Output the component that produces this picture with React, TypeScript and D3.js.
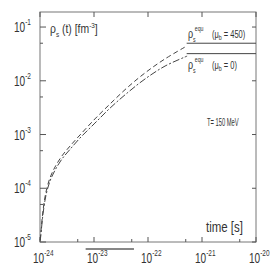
import { useRef, useEffect } from 'react';
import * as d3 from 'd3';

// time points [s]
const times = [1.01e-24, 1.04e-24, 1.14e-24, 1.29e-24, 1.53e-24, 1.9e-24, 2.55e-24, 3.6e-24, 5.5e-24, 1.04e-23, 1.98e-23, 4.1e-23, 8.8e-23, 2.07e-22, 5.3e-22];
// rho_s(t) for mu_b = 450
const rhoHigh = [1.09e-5, 1.52e-5, 3.9e-5, 8.5e-5, 1.56e-4, 2.49e-4, 4.0e-4, 6.1e-4, 9.8e-4, 1.95e-3, 3.7e-3, 7.4e-3, 1.4e-2, 2.56e-2, 4.47e-2];
// rho_s(t) for mu_b = 0
const rhoLow = [1.05e-5, 1.4e-5, 3.4e-5, 7.4e-5, 1.36e-4, 2.17e-4, 3.5e-4, 5.3e-4, 8.6e-4, 1.63e-3, 3.1e-3, 5.9e-3, 1.08e-2, 1.88e-2, 2.88e-2];
// equilibrium values
const equHigh = 5.0e-2;
const equLow = 3.2e-2;
const equStart = 5.2e-22;

const xTickExps = [-24, -23, -22, -21, -20];
const yTickExps = [-5, -4, -3, -2, -1];

const FONT = "'Liberation Sans', Arial, sans-serif";

export default function App() {
  const svgRef = useRef<SVGSVGElement>(null);
  const width = 273, height = 274;
  const margin = { top: 12, right: 17, bottom: 32, left: 40 };

  useEffect(() => {
    const svg = d3.select(svgRef.current);
    svg.selectAll('*').remove();

    const x = d3.scaleLog().domain([1e-24, 1e-20]).range([margin.left, width - margin.right]);
    const y = d3.scaleLog().domain([1e-5, Math.pow(10, -0.72)]).range([height - margin.bottom, margin.top]);

    const ink = '#555';
    const x0 = margin.left, x1 = width - margin.right;
    const y0 = height - margin.bottom, y1 = margin.top;

    // condensed-looking text: squeeze horizontally
    const label = (lx: number, ly: number, size: number, sx: number) =>
      svg.append('g').attr('transform', `translate(${lx},${ly}) scale(${sx},1)`)
        .append('text')
        .attr('font-family', FONT).attr('font-size', size).attr('fill', '#333');

    // frame
    svg.append('rect')
      .attr('x', x0).attr('y', y1)
      .attr('width', x1 - x0).attr('height', y0 - y1)
      .attr('fill', 'none').attr('stroke', '#777').attr('stroke-width', 1);

    // x ticks (decades + 5x minor), bottom and top, pointing inward
    xTickExps.forEach(e => {
      const v = Math.pow(10, e);
      const px = x(v);
      svg.append('line').attr('x1', px).attr('x2', px).attr('y1', y0).attr('y2', y0 - 5).attr('stroke', ink);
      svg.append('line').attr('x1', px).attr('x2', px).attr('y1', y1).attr('y2', y1 + 5).attr('stroke', ink);
      if (e < -20) {
        const m = x(5 * v);
        svg.append('line').attr('x1', m).attr('x2', m).attr('y1', y0).attr('y2', y0 - 3).attr('stroke', ink);
      }
      const t = label(px - 7, y0 + 21, 14, 0.72);
      t.append('tspan').text('10');
      t.append('tspan').attr('dy', -7).attr('font-size', 9).text(String(e));
    });

    // y ticks
    yTickExps.forEach(e => {
      const v = Math.pow(10, e);
      const py = y(v);
      svg.append('line').attr('x1', x0).attr('x2', x0 + 6).attr('y1', py).attr('y2', py).attr('stroke', ink);
      svg.append('line').attr('x1', x1).attr('x2', x1 - 4).attr('y1', py).attr('y2', py).attr('stroke', ink);
      const m = y(5 * v);
      svg.append('line').attr('x1', x0).attr('x2', x0 + 3).attr('y1', m).attr('y2', m).attr('stroke', ink);
      const t = label(14, py + 5, 14, 0.72);
      t.append('tspan').text('10');
      t.append('tspan').attr('dy', -7).attr('font-size', 9).text(String(e));
    });

    // curves
    const line = d3.line<[number, number]>().x(d => x(d[0])).y(d => y(d[1])).curve(d3.curveCatmullRom.alpha(0.5));
    svg.append('path')
      .attr('d', line(times.map((t, i) => [t, rhoHigh[i]] as [number, number])))
      .attr('fill', 'none').attr('stroke', '#444').attr('stroke-width', 1)
      .attr('stroke-dasharray', '5,3');
    svg.append('path')
      .attr('d', line(times.map((t, i) => [t, rhoLow[i]] as [number, number])))
      .attr('fill', 'none').attr('stroke', '#444').attr('stroke-width', 1)
      .attr('stroke-dasharray', '7,2,2,2');

    // equilibrium lines
    [equHigh, equLow].forEach(v => {
      svg.append('line')
        .attr('x1', x(equStart)).attr('x2', x1)
        .attr('y1', y(v)).attr('y2', y(v))
        .attr('stroke', '#444').attr('stroke-width', 1);
    });

    // y label
    const yl = label(50, 33, 13, 0.8);
    yl.append('tspan').text('ρ');
    yl.append('tspan').attr('dy', 4).attr('font-size', 8).text('s');
    yl.append('tspan').attr('dy', -4).text(' (t) [fm');
    yl.append('tspan').attr('dy', -5).attr('font-size', 8).text('-3');
    yl.append('tspan').attr('dy', 5).text(']');

    // equilibrium labels
    const equLabel = (ly: number, mu: string) => {
      const t = label(188, ly, 12, 0.75);
      t.append('tspan').text('ρ');
      t.append('tspan').attr('dy', 4).attr('font-size', 7).text('s');
      t.append('tspan').attr('x', 9).attr('dy', -11).attr('font-size', 7).text('equ');
      t.append('tspan').attr('x', 32).attr('dy', 7).attr('font-size', 10).text('(μ');
      t.append('tspan').attr('dy', 2).attr('font-size', 7).text('b');
      t.append('tspan').attr('dy', -2).attr('font-size', 10).text(' = ' + mu + ')');
    };
    equLabel(38, '450');
    equLabel(69, '0');

    label(207, 126, 10, 0.58).text('T= 150 MeV');

    label(206, 232, 14, 0.82).text('time [s]');

    // scan mark under the 10^-23 label
    svg.append('line').attr('x1', x(7e-24)).attr('x2', x(5.5e-23)).attr('y1', 249).attr('y2', 249)
      .attr('stroke', '#111').attr('stroke-width', 1.2);
  }, []);

  return (
    <div style={{ position: 'absolute', left: 0, top: 0 }}>
      <svg ref={svgRef} width={width} height={height} style={{ display: 'block', background: '#fff' }} />
    </div>
  );
}
